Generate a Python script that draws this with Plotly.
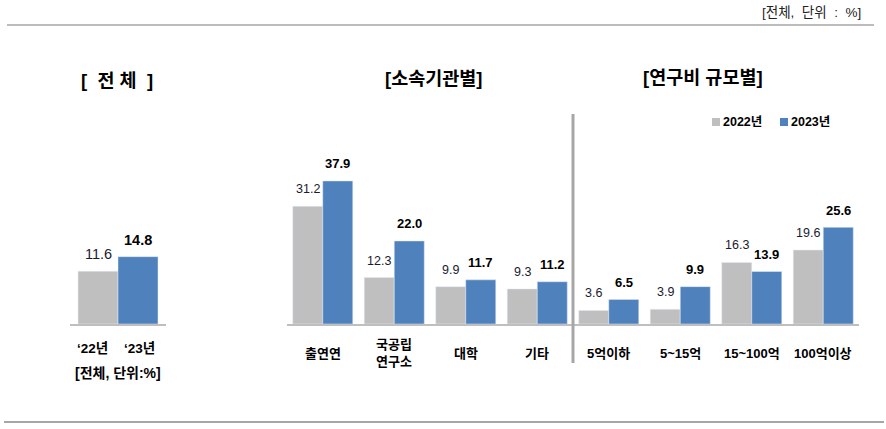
import plotly.graph_objects as go

W, H = 886, 429
GRAY, BLUE = '#BFBFBF', '#4F81BD'
FONT = 'Liberation Sans, Noto Sans CJK KR, sans-serif'

# ---- data ----
total_labels = ['‘22년', '‘23년']
total_values = [11.6, 14.8]

org_categories = ['출연연', '국공립<br>연구소', '대학', '기타']
org_2022 = [31.2, 12.3, 9.9, 9.3]
org_2023 = [37.9, 22.0, 11.7, 11.2]

size_categories = ['5억이하', '5~15억', '15~100억', '100억이상']
size_2022 = [3.6, 3.9, 16.3, 19.6]
size_2023 = [6.5, 9.9, 13.9, 25.6]

series_names = ['2022년', '2023년']
panel_titles = ['[  전 체  ]', '[소속기관별]', '[연구비 규모별]']
unit_note = '[전체,  단위  :  %]'
total_note = '[전체, 단위:%]'


def px_x(p):
    return p / W


def px_y(p):
    return 1 - p / H


fig = go.Figure()

# left panel
fig.add_trace(go.Bar(x=total_labels, y=total_values, marker_color=[GRAY, BLUE],
                     width=1, xaxis='x', yaxis='y', showlegend=False))
# middle panel
fig.add_trace(go.Bar(x=org_categories, y=org_2022, marker_color=GRAY, name=series_names[0],
                     xaxis='x2', yaxis='y2', showlegend=False))
fig.add_trace(go.Bar(x=org_categories, y=org_2023, marker_color=BLUE, name=series_names[1],
                     xaxis='x2', yaxis='y2', showlegend=False))
# right panel
fig.add_trace(go.Bar(x=size_categories, y=size_2022, marker_color=GRAY, name=series_names[0],
                     xaxis='x3', yaxis='y3', showlegend=False))
fig.add_trace(go.Bar(x=size_categories, y=size_2023, marker_color=BLUE, name=series_names[1],
                     xaxis='x3', yaxis='y3', showlegend=False))

base = px_y(324)
xcommon = dict(type='category', showticklabels=False, ticks='', showgrid=False,
               showline=True, linecolor='#BFBFBF', linewidth=1.5, zeroline=False, fixedrange=True)
ycommon = dict(visible=False, showgrid=False, zeroline=False, fixedrange=True)

fig.update_layout(
    width=W, height=H, margin=dict(l=0, r=0, t=0, b=0),
    paper_bgcolor='white', plot_bgcolor='white',
    barmode='group', bargap=0.16, bargroupgap=0,
    font=dict(family=FONT, color='#000000'),
    xaxis=dict(domain=[px_x(70), px_x(166)], range=[-0.7, 1.7], anchor='y', **xcommon),
    yaxis=dict(domain=[base, 1], range=[0, 324 / 4.55], anchor='x', **ycommon),
    xaxis2=dict(domain=[px_x(287), px_x(573)], range=[-0.5, 3.5], anchor='y2', **xcommon),
    yaxis2=dict(domain=[base, 1], range=[0, 324 / 3.775], anchor='x2', **ycommon),
    xaxis3=dict(domain=[px_x(573), px_x(859)], range=[-0.5, 3.5], anchor='y3', **xcommon),
    yaxis3=dict(domain=[base, 1], range=[0, 324 / 3.775], anchor='x3', **ycommon),
)

ann = []
# value labels - left
for i, v in enumerate(total_values):
    bold = i == 1
    ann.append(dict(xref='x', yref='y', x=i, y=v, yshift=17, yanchor='middle', xanchor='center',
                    text=(f'<b>{v:.1f}</b>' if bold else f'{v:.1f}'), showarrow=False,
                    font=dict(size=14.5, color='#000000' if bold else '#1a1a2e')))
# value labels - grouped panels
for ax, cats, s1, s2 in [('2', org_categories, org_2022, org_2023),
                         ('3', size_categories, size_2022, size_2023)]:
    for i in range(len(cats)):
        ann.append(dict(xref='x' + ax, yref='y' + ax, x=i - 0.21, y=s1[i], yshift=17,
                        yanchor='middle', xanchor='center', text=f'{s1[i]:.1f}', showarrow=False,
                        font=dict(size=12.5, color='#1a1a2e')))
        ann.append(dict(xref='x' + ax, yref='y' + ax, x=i + 0.21, y=s2[i], yshift=17,
                        yanchor='middle', xanchor='center', text=f'<b>{s2[i]:.1f}</b>',
                        showarrow=False, font=dict(size=13, color='#000000')))
        ann.append(dict(xref='x' + ax, yref='paper', x=i, y=px_y(353), yanchor='middle',
                        xanchor='center', text=f'<b>{cats[i]}</b>', showarrow=False,
                        font=dict(size=13, color='#000000')))
# left tick labels
for i, (lab, shift) in enumerate(zip(total_labels, [-6, 1])):
    ann.append(dict(xref='x', yref='paper', x=i, xshift=shift, y=px_y(348), yanchor='middle',
                    xanchor='center', text=f'<b>{lab}</b>', showarrow=False, font=dict(size=13.5)))
ann.append(dict(xref='paper', yref='paper', x=px_x(118), y=px_y(373), yanchor='middle',
                xanchor='center', text=f'<b>{total_note}</b>', showarrow=False,
                font=dict(size=14)))
# titles
for t, xp, yp in zip(panel_titles, [117, 433, 703], [80, 78, 77]):
    ann.append(dict(xref='paper', yref='paper', x=px_x(xp), y=px_y(yp), yanchor='middle',
                    xanchor='center', text=f'<b>{t}</b>', showarrow=False,
                    font=dict(size=18.5)))
# unit note
ann.append(dict(xref='paper', yref='paper', x=px_x(863), y=px_y(13), xanchor='right',
                yanchor='middle', text=unit_note, showarrow=False,
                font=dict(size=13.5, color='#222222')))
# legend (manual)
shapes = []
for name, col, sx in zip(series_names, [GRAY, BLUE], [712, 780]):
    shapes.append(dict(type='rect', xref='paper', yref='paper', x0=px_x(sx), x1=px_x(sx + 8),
                       y0=px_y(126), y1=px_y(118), fillcolor=col, line=dict(width=0)))
    ann.append(dict(xref='paper', yref='paper', x=px_x(sx + 9), y=px_y(122), xanchor='left',
                    yanchor='middle', text=f'<b>{name}</b>', showarrow=False,
                    font=dict(size=12.5)))

# separator and frame lines
shapes.append(dict(type='line', xref='paper', yref='paper', x0=px_x(573), x1=px_x(573),
                   y0=px_y(114), y1=px_y(363), line=dict(color='#A6A6A6', width=3)))
shapes.append(dict(type='line', xref='paper', yref='paper', x0=px_x(7), x1=px_x(874),
                   y0=px_y(25), y1=px_y(25), line=dict(color='#A6A6A6', width=1.5)))
shapes.append(dict(type='line', xref='paper', yref='paper', x0=px_x(4), x1=px_x(884),
                   y0=px_y(422), y1=px_y(422), line=dict(color='#A6A6A6', width=2)))

fig.update_layout(annotations=ann, shapes=shapes)
fig.write_html('out.html')
